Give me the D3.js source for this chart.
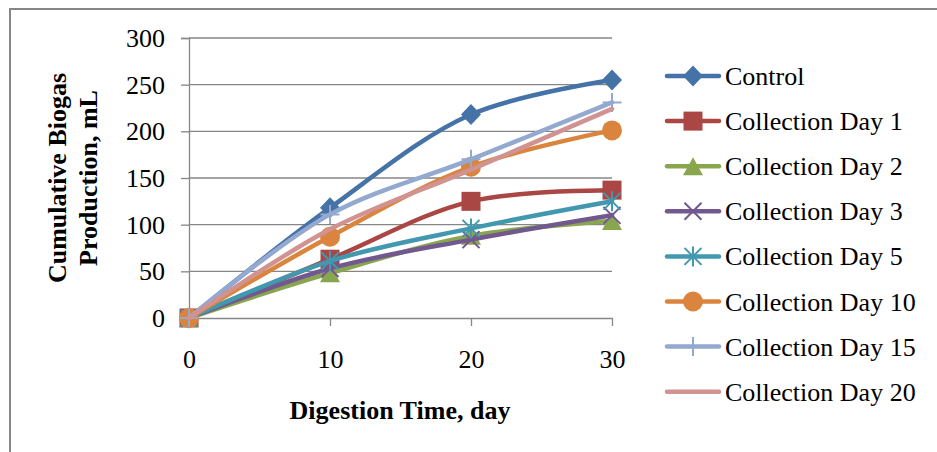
<!DOCTYPE html>
<html>
<head>
<meta charset="utf-8">
<script src="https://cdn.jsdelivr.net/npm/d3@7"></script>
<style>
  html, body { margin: 0; padding: 0; background: #fff; }
  svg { display: block; }
  text { font-family: "Liberation Serif", "Times New Roman", serif; fill: #000; }
</style>
</head>
<body>
<svg id="chart" width="937" height="452"></svg>
<script>
// Digestion days on the x axis
const days = [0, 10, 20, 30];

// Cumulative biogas production (mL) per treatment
const control = [0, 118, 218, 255];
const day1    = [0, 63, 125, 137];
const day2    = [0, 48, 88, 104];
const day3    = [0, 53, 84, 110];
const day5    = [0, 61, 96, 125];
const day10   = [0, 87, 162, 201];
const day15   = [0, 111, 170, 231];
const day20   = [0, 95, 159, 224];

const seriesNames = ["Control", "Collection Day 1", "Collection Day 2", "Collection Day 3",
                     "Collection Day 5", "Collection Day 10", "Collection Day 15", "Collection Day 20"];
const seriesValues = [control, day1, day2, day3, day5, day10, day15, day20];
const seriesColors = ["#4572A7", "#AA4643", "#89A54E", "#71588F", "#4198AF", "#DB843D", "#93A9CF", "#D19392"];
const seriesMarkers = ["diamond", "square", "triangle", "x", "star", "circle", "plus", "none"];

const yTicks = [0, 50, 100, 150, 200, 250, 300];
const xTicks = [0, 10, 20, 30];

const FS = 26;
const svg = d3.select("#chart");

// outer chart frame
svg.append("rect")
  .attr("x", 10).attr("y", 9).attr("width", 960).attr("height", 480)
  .attr("fill", "none").attr("stroke", "#868686").attr("stroke-width", 2);

const x = d3.scaleLinear().domain([0, 30]).range([189, 612]);
const y = d3.scaleLinear().domain([0, 300]).range([318, 38]);

// horizontal gridlines
svg.append("g").selectAll("line").data(yTicks.filter(d => d > 0)).join("line")
  .attr("x1", x(0)).attr("x2", x(30))
  .attr("y1", d => y(d)).attr("y2", d => y(d))
  .attr("stroke", "#868686").attr("stroke-width", 1.3);

// y axis
const yAxis = svg.append("g").attr("transform", `translate(${x(0)},0)`)
  .call(d3.axisLeft(y).tickValues(yTicks).tickSize(8).tickPadding(16).tickFormat(d3.format("d")));
yAxis.select(".domain").attr("stroke", "#868686").attr("stroke-width", 1.3);
yAxis.selectAll(".tick line").attr("stroke", "#868686").attr("stroke-width", 1.3);
yAxis.selectAll(".tick text").attr("font-size", FS).attr("dy", "0.33em").attr("fill", "#000");

// x axis
const xAxis = svg.append("g").attr("transform", `translate(0,${y(0)})`)
  .call(d3.axisBottom(x).tickValues(xTicks).tickSize(8).tickSizeOuter(0).tickFormat(d3.format("d")));
xAxis.select(".domain").attr("stroke", "#868686").attr("stroke-width", 1.3);
xAxis.selectAll(".tick line").attr("stroke", "#868686").attr("stroke-width", 1.3);
xAxis.selectAll(".tick text").attr("font-size", FS).attr("y", 50).attr("dy", 0).attr("fill", "#000");

// axis titles
const yTitle = svg.append("text")
  .attr("transform", "translate(0,178) rotate(-90)")
  .attr("text-anchor", "middle").attr("font-weight", "bold").attr("font-size", FS);
yTitle.append("tspan").attr("x", 0).attr("y", 66).text("Cumulative Biogas");
yTitle.append("tspan").attr("x", 0).attr("y", 97).text("Production, mL");

svg.append("text")
  .attr("x", 400).attr("y", 419)
  .attr("text-anchor", "middle").attr("font-weight", "bold").attr("font-size", FS)
  .text("Digestion Time, day");

// marker drawing helper (h = half-size in px)
function drawMarker(g, type, color) {
  if (type === "diamond") {
    g.append("path").attr("d", "M0,-10.5L10,0L0,10.5L-10,0Z").attr("fill", color);
  } else if (type === "square") {
    g.append("rect").attr("x", -9.5).attr("y", -9.5).attr("width", 19).attr("height", 19).attr("fill", color);
  } else if (type === "triangle") {
    g.append("path").attr("d", "M0,-9L10,9L-10,9Z").attr("fill", color);
  } else if (type === "circle") {
    g.append("circle").attr("r", 10).attr("fill", color);
  } else if (type === "x") {
    g.append("path").attr("d", "M-8.5,-8.5L8.5,8.5M-8.5,8.5L8.5,-8.5")
      .attr("stroke", color).attr("stroke-width", 2).attr("fill", "none");
  } else if (type === "star") {
    g.append("path").attr("d", "M-8.5,-8.5L8.5,8.5M-8.5,8.5L8.5,-8.5M0,-10L0,10")
      .attr("stroke", color).attr("stroke-width", 2).attr("fill", "none");
  } else if (type === "plus") {
    g.append("path").attr("d", "M0,-9.5L0,9.5M-9.5,0L9.5,0")
      .attr("stroke", color).attr("stroke-width", 2).attr("fill", "none");
  }
}

const line = d3.line()
  .x((d, i) => x(days[i]))
  .y(d => y(d))
  .curve(d3.curveCatmullRom.alpha(0.5));

const plot = svg.append("g");
seriesValues.forEach((vals, si) => {
  const g = plot.append("g");
  g.append("path")
    .attr("d", line(vals))
    .attr("fill", "none")
    .attr("stroke", seriesColors[si])
    .attr("stroke-width", 4.5)
    .attr("stroke-linejoin", "round")
    .attr("stroke-linecap", "round");
  vals.forEach((v, i) => {
    const mg = g.append("g").attr("transform", `translate(${x(days[i])},${y(v)})`);
    drawMarker(mg, seriesMarkers[si], seriesColors[si]);
  });
});

// legend
const legend = svg.append("g");
seriesNames.forEach((name, i) => {
  const ly = 76 + i * 45.1;
  const lg = legend.append("g");
  lg.append("line")
    .attr("x1", 667).attr("x2", 719).attr("y1", ly).attr("y2", ly)
    .attr("stroke", seriesColors[i]).attr("stroke-width", 4.5).attr("stroke-linecap", "round");
  drawMarker(lg.append("g").attr("transform", `translate(693,${ly})`), seriesMarkers[i], seriesColors[i]);
  lg.append("text")
    .attr("x", 725).attr("y", ly + 9)
    .attr("font-size", FS)
    .text(name);
});
</script>
</body>
</html>
